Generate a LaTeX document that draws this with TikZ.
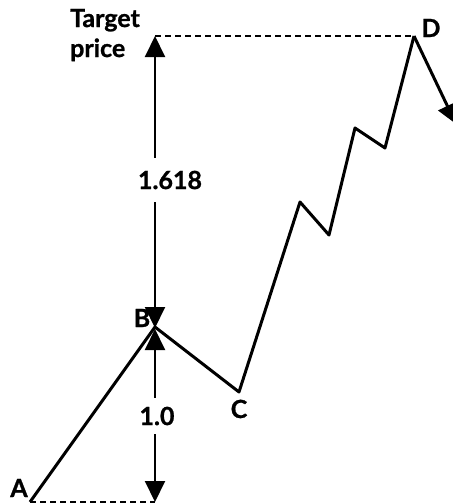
\documentclass[tikz,border=0pt]{standalone}
\usepackage{fontspec}
\setmainfont{Lato}[BoldFeatures={FakeBold=1}]
\usetikzlibrary{arrows.meta}
\begin{document}
\begin{tikzpicture}[x=1pt,y=-1pt,
  wave/.style={line width=3pt,line join=round},
  guide/.style={line width=1.3pt,dash pattern=on 6pt off 4pt},
  measure/.style={line width=2pt,{Triangle[width=20pt,length=21pt]}-{Triangle[width=20pt,length=21pt]}},
  lbl/.style={font=\bfseries\fontsize{25}{28}\selectfont,inner sep=0pt},
  ratio/.style={font=\bfseries\fontsize{25}{28}\selectfont,fill=white,inner xsep=2pt,inner ysep=13pt}]
\useasboundingbox (0,0) rectangle (453,504);
\clip (0,0) rectangle (453,504);
\coordinate (A) at (30,502);
\coordinate (B) at (155,327);
\coordinate (C) at (239,392);
\coordinate (P1) at (300,202);
\coordinate (T1) at (329,235);
\coordinate (P2) at (355,128);
\coordinate (T2) at (385,148);
\coordinate (D) at (414,36);
\coordinate (E) at (456,124);
\coordinate (Abase) at (155,502);
\coordinate (Dtop) at (155,36);
\coordinate (Bup) at (155,328);
\coordinate (Blow) at (155,329);
% zigzag
\draw[wave] (A) -- (B) -- (C) -- (P1) -- (T1) -- (P2) -- (T2) -- (D);
\draw[wave,-{Triangle[width=20pt,length=20pt]}] (D) -- (E);
% guides
\draw[guide] (A) -- (Abase);
\draw[guide] (Dtop) -- (D);
% measures
\draw[measure] (Bup) -- (Dtop);
\draw[measure] (Blow) -- (Abase);
\node[ratio] (r1) at (170,180) {1.618};
\node[ratio,inner ysep=9pt] (r2) at (157,416) {1.0};
% labels
\node[lbl,anchor=base west] (tgt) at (70,27) {Target};
\node[lbl,anchor=base west] (prc) at (70,57) {price};
\node[lbl,anchor=base] (la) at (19,497) {A};
\node[lbl,anchor=base] (lb) at (142,327) {B};
\node[lbl,anchor=base] (lc) at (239,418) {C};
\node[lbl,anchor=base] (ld) at (431,37) {D};
\end{tikzpicture}
\end{document}
